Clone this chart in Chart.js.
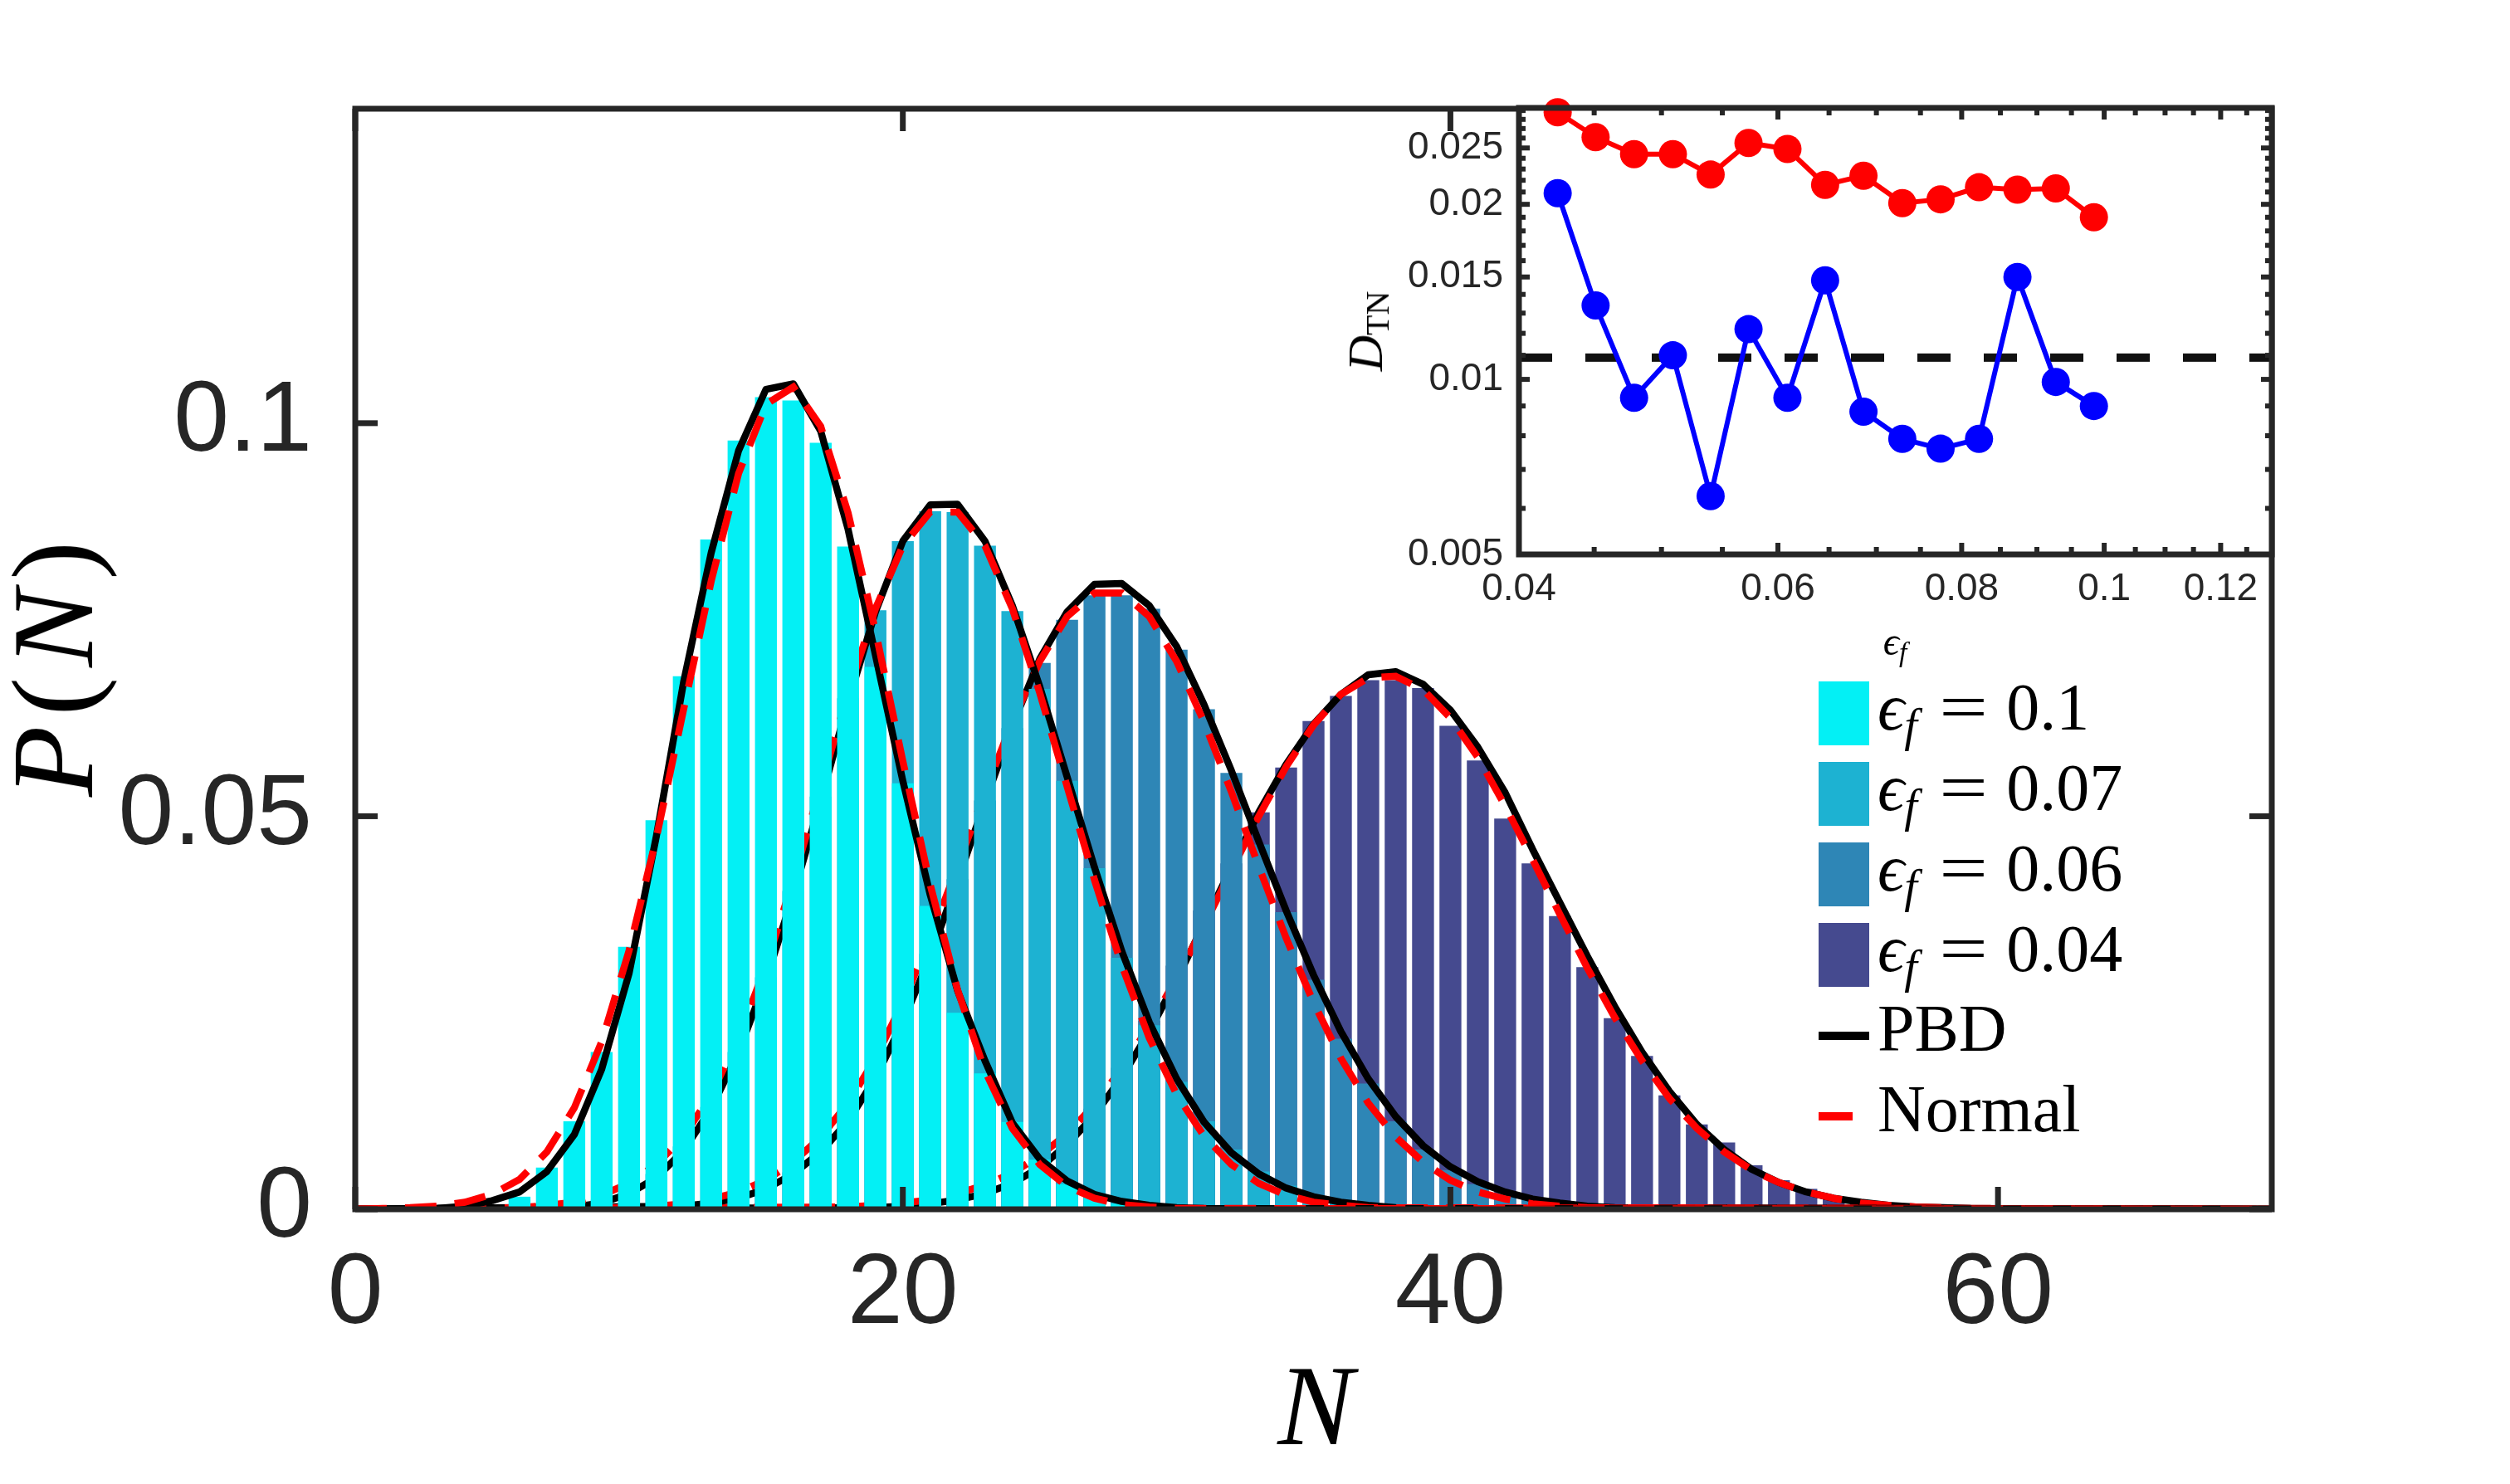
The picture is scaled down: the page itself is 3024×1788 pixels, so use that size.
<!DOCTYPE html>
<html>
<head>
<meta charset="utf-8">
<script src="https://cdn.jsdelivr.net/npm/chart.js@4.4.1/dist/chart.umd.min.js"></script>
<style>
    html, body { margin: 0; padding: 0; background: #fff; }
    #wrap { position: relative; width: 3024px; height: 1788px; overflow: hidden; background: #fff; }
    #mainCanvas { position: absolute; left: 0; top: 0; }
    #insetCanvas { position: absolute; left: 1600px; top: 100px; }
    .txt { position: absolute; font-family: "Liberation Serif", "Times New Roman", "DejaVu Serif", serif; color: #000; white-space: nowrap; line-height: 1; }
    .sub { position: relative; font-size: 0.7em; }
    .eq { display: inline-block; margin: 0 0.36em 0 0.42em; transform: scaleX(1.3); }
    .swatch { position: absolute; left: 2191px; width: 61px; height: 77px; }
    .legline { position: absolute; left: 2191px; height: 10px; }
</style>
</head>
<body>
<div id="wrap">
    <canvas id="mainCanvas" width="3024" height="1788"></canvas>
    <canvas id="insetCanvas" width="1200" height="740"></canvas>

    <!-- axis titles -->
    <div class="txt" style="left:64px; top:800px; font-size:140px; letter-spacing:12px; transform:translate(-50%,-50%) rotate(-90deg);"><i>P</i>(<i>N</i>)</div>
    <div class="txt" style="left:1585px; top:1626px; font-size:137px; transform:translateX(-50%);"><i>N</i></div>
    <div class="txt" style="left:1645px; top:399px; font-size:60px; transform:translate(-50%,-50%) rotate(-90deg);"><i>D</i><span style="font-size:40px; position:relative; top:8px;">TN</span></div>
    <div class="txt" style="left:2283px; top:749px; font-size:48px; transform:translateX(-50%);"><i>ϵ</i><span class="sub" style="top:0.25em;"><i>f</i></span></div>

    <!-- legend -->
    <div class="swatch" style="top:821px; background:#03F0F5;"></div>
    <div class="swatch" style="top:918px; background:#1DB2D2;"></div>
    <div class="swatch" style="top:1015px; background:#2E86B6;"></div>
    <div class="swatch" style="top:1112px; background:#454A8F;"></div>
    <div class="legline" style="top:1243px; width:61px; background:#000;"></div>
    <div class="legline" style="top:1340px; width:41px; background:#FF0000;"></div>
    <div class="txt" style="left:2262px; top:812px; font-size:80px;"><i>ϵ</i><span class="sub" style="top:0.25em;"><i>f</i></span><span class="eq">=</span>0.1</div>
    <div class="txt" style="left:2262px; top:909px; font-size:80px;"><i>ϵ</i><span class="sub" style="top:0.25em;"><i>f</i></span><span class="eq">=</span>0.07</div>
    <div class="txt" style="left:2262px; top:1006px; font-size:80px;"><i>ϵ</i><span class="sub" style="top:0.25em;"><i>f</i></span><span class="eq">=</span>0.06</div>
    <div class="txt" style="left:2262px; top:1103px; font-size:80px;"><i>ϵ</i><span class="sub" style="top:0.25em;"><i>f</i></span><span class="eq">=</span>0.04</div>
    <div class="txt" style="left:2262px; top:1199px; font-size:80px;">PBD</div>
    <div class="txt" style="left:2262px; top:1296px; font-size:80px;">Normal</div>
</div>

<script>
// ---- main panel: P(N) histograms, PBD and Normal fits ----
const nTicks = [0, 20, 40, 60];
const pTicks = [0, 0.05, 0.1];
const nMax = 70;
const pMax = 0.14;

// eps_f = 0.1
const bars01Start = 6;
const bars01 = [0.0016, 0.0053, 0.0112, 0.0200, 0.0334, 0.0495, 0.0678, 0.0852, 0.0978, 0.1033, 0.1029, 0.0975,
    0.0843, 0.0690, 0.0542, 0.0386, 0.0250, 0.0173, 0.0111, 0.0063, 0.0032, 0.0015, 0.0007, 0.0003];
const pbd01Start = 3;
const pbd01 = [0.0001, 0.0004, 0.0011, 0.0022, 0.0048, 0.0095, 0.0178, 0.0300, 0.0475, 0.0672, 0.0835, 0.0965,
    0.1043, 0.1050, 0.0990, 0.0865, 0.0705, 0.0545, 0.0400, 0.0278, 0.0189, 0.0110, 0.0064, 0.0036, 0.0019,
    0.0010, 0.0005, 0.0002, 0.0001];
const norm01Start = 1;
const norm01 = [0.0001, 0.0002, 0.0004, 0.0009, 0.0019, 0.0038, 0.0073, 0.0129, 0.0213, 0.0329, 0.0473, 0.0637,
    0.0799, 0.0936, 0.1024, 0.1046, 0.0996, 0.0886, 0.0736, 0.0570, 0.0413, 0.0279, 0.0176, 0.0103, 0.0057,
    0.0029, 0.0014, 0.0006, 0.0003, 0.0001];

// eps_f = 0.07
const bars007Start = 9;
const bars007 = [0.0012, 0.0025, 0.0045, 0.0080, 0.0130, 0.0200, 0.0295, 0.0405, 0.0525, 0.0650, 0.0762, 0.0850,
    0.0888, 0.0887, 0.0844, 0.0761, 0.0662, 0.0545, 0.0434, 0.0320, 0.0234, 0.0162, 0.0112, 0.0076, 0.0048,
    0.0030, 0.0018, 0.0010, 0.0005];
const pbd007Start = 8;
const pbd007 = [0.0003, 0.0008, 0.0020, 0.0040, 0.0075, 0.0128, 0.0200, 0.0292, 0.0400, 0.0520, 0.0645, 0.0760,
    0.0850, 0.0896, 0.0897, 0.0850, 0.0768, 0.0665, 0.0550, 0.0435, 0.0328, 0.0238, 0.0166, 0.0111, 0.0072,
    0.0045, 0.0027, 0.0016, 0.0009, 0.0005, 0.0002, 0.0001];
const norm007Start = 6;
const norm007 = [0.0002, 0.0005, 0.0009, 0.0018, 0.0033, 0.0057, 0.0093, 0.0146, 0.0218, 0.0310, 0.0419, 0.0538,
    0.0657, 0.0764, 0.0844, 0.0887, 0.0887, 0.0844, 0.0764, 0.0657, 0.0538, 0.0419, 0.0310, 0.0218, 0.0146,
    0.0093, 0.0057, 0.0033, 0.0018, 0.0009, 0.0005, 0.0002];

// eps_f = 0.06
const bars006Start = 13;
const bars006 = [0.0008, 0.0015, 0.0028, 0.0047, 0.0075, 0.0115, 0.0170, 0.0240, 0.0325, 0.0420, 0.0520, 0.0612,
    0.0695, 0.0750, 0.0781, 0.0781, 0.0764, 0.0712, 0.0636, 0.0555, 0.0464, 0.0378, 0.0292, 0.0217, 0.0160,
    0.0112, 0.0076, 0.0050, 0.0032, 0.0020, 0.0012, 0.0007, 0.0004];
const pbd006Start = 12;
const pbd006 = [0.0004, 0.0008, 0.0014, 0.0026, 0.0045, 0.0073, 0.0112, 0.0167, 0.0238, 0.0322, 0.0418, 0.0518,
    0.0615, 0.0700, 0.0760, 0.0795, 0.0796, 0.0768, 0.0716, 0.0642, 0.0558, 0.0468, 0.0380, 0.0298, 0.0226,
    0.0166, 0.0118, 0.0081, 0.0054, 0.0035, 0.0022, 0.0013, 0.0008, 0.0004, 0.0002];
const norm006Start = 10;
const norm006 = [0.0002, 0.0004, 0.0007, 0.0013, 0.0022, 0.0037, 0.0060, 0.0092, 0.0135, 0.0192, 0.0263, 0.0345,
    0.0436, 0.0531, 0.0620, 0.0697, 0.0754, 0.0784, 0.0784, 0.0754, 0.0697, 0.0620, 0.0531, 0.0436, 0.0345,
    0.0263, 0.0192, 0.0135, 0.0092, 0.0060, 0.0037, 0.0022, 0.0013, 0.0007, 0.0004, 0.0002];

// eps_f = 0.04
const bars004Start = 20;
const bars004 = [0.0004, 0.0007, 0.0013, 0.0022, 0.0036, 0.0058, 0.0088, 0.0128, 0.0180, 0.0240, 0.0310, 0.0380,
    0.0440, 0.0505, 0.0562, 0.0621, 0.0653, 0.0673, 0.0673, 0.0663, 0.0615, 0.0571, 0.0497, 0.0440, 0.0373,
    0.0308, 0.0243, 0.0195, 0.0145, 0.0108, 0.0085, 0.0056, 0.0037, 0.0026, 0.0015, 0.0009, 0.0005, 0.0003];
const pbd004Start = 19;
const pbd004 = [0.0002, 0.0004, 0.0007, 0.0012, 0.0020, 0.0033, 0.0053, 0.0082, 0.0120, 0.0168, 0.0226, 0.0292,
    0.0363, 0.0435, 0.0505, 0.0566, 0.0617, 0.0655, 0.0680, 0.0684, 0.0668, 0.0635, 0.0588, 0.0530, 0.0458,
    0.0390, 0.0322, 0.0258, 0.0200, 0.0150, 0.0108, 0.0076, 0.0051, 0.0034, 0.0022, 0.0014, 0.0009, 0.0005,
    0.0003, 0.0002, 0.0001];
const norm004Start = 18;
const norm004 = [0.0003, 0.0005, 0.0008, 0.0012, 0.0020, 0.0031, 0.0046, 0.0068, 0.0096, 0.0133, 0.0179, 0.0233,
    0.0294, 0.0361, 0.0431, 0.0500, 0.0563, 0.0616, 0.0655, 0.0676, 0.0678, 0.0661, 0.0625, 0.0575, 0.0513,
    0.0445, 0.0375, 0.0307, 0.0244, 0.0189, 0.0141, 0.0103, 0.0073, 0.0050, 0.0034, 0.0022, 0.0014, 0.0008,
    0.0005, 0.0003, 0.0002, 0.0001];

// ---- inset: D_TN vs eps_f ----
const epsF = [0.0425, 0.0451, 0.0479, 0.0509, 0.0540, 0.0573, 0.0609, 0.0646, 0.0686, 0.0729, 0.0774, 0.0822,
    0.0873, 0.0927, 0.0984];
const dtnNormal = [0.0288, 0.0261, 0.0244, 0.0244, 0.0225, 0.0255, 0.0249, 0.0216, 0.0224, 0.0201, 0.0204,
    0.0214, 0.0212, 0.0213, 0.0190];
const dtnPBD = [0.0209, 0.0134, 0.0093, 0.0110, 0.0063, 0.0122, 0.0093, 0.0148, 0.0088, 0.0079, 0.0076, 0.0079,
    0.0150, 0.0099, 0.0090];
const dtnThreshold = 0.0109;
const insetXMin = 0.04, insetXMax = 0.13;
const insetYMin = 0.005, insetYMax = 0.0293;
const insetXLabels = [0.04, 0.06, 0.08, 0.1, 0.12];
const insetXMinor = [0.045, 0.05, 0.055, 0.065, 0.07, 0.075, 0.085, 0.09, 0.095, 0.105, 0.11, 0.115, 0.125];
const insetYLabels = [0.005, 0.01, 0.015, 0.02, 0.025];
const insetYMinor = [0.006, 0.007, 0.008, 0.009, 0.011, 0.012, 0.013, 0.014, 0.016, 0.017, 0.018, 0.019,
    0.021, 0.022, 0.023, 0.024, 0.026, 0.027, 0.028, 0.029];

const axisColor = '#262626';
const colors = { c01: '#03F0F5', c007: '#1DB2D2', c006: '#2E86B6', c004: '#454A8F' };

function toPoints(start, values) {
    return values.map((v, i) => ({ x: start + i, y: v }));
}

// curves run along the bottom across the whole N range
function curvePoints(start, values) {
    const pts = toPoints(start, values);
    return [{ x: 0, y: 0 }, ...pts, { x: nMax, y: 0 }];
}

function barSet(label, start, values, color, order) {
    return {
        type: 'bar', label, data: toPoints(start, values), backgroundColor: color, borderWidth: 0,
        grouped: false, barPercentage: 0.8, categoryPercentage: 1.0, order
    };
}

function pbdSet(start, values, order) {
    return {
        type: 'line', label: 'PBD', data: curvePoints(start, values), borderColor: '#000', borderWidth: 8.5,
        pointRadius: 0, tension: 0, borderJoinStyle: 'round', fill: false, order
    };
}

function normSet(start, values, order) {
    return {
        type: 'line', label: 'Normal', data: curvePoints(start, values), borderColor: '#FF0000', borderWidth: 8.5,
        borderDash: [38, 22], pointRadius: 0, tension: 0, fill: false, order
    };
}

// tick label padding would otherwise push the plot area down
function dropPadding(s) {
    s.paddingTop = 0;
    s.paddingBottom = 0;
}

// inward ticks on all four sides plus the box
function boxTicks(cfg) {
    return {
        id: 'boxTicks',
        beforeDraw(chart) {
            if (!cfg.fill) return;
            const { ctx, chartArea: a } = chart;
            ctx.save();
            ctx.fillStyle = '#fff';
            ctx.fillRect(a.left, a.top, a.right - a.left, a.bottom - a.top);
            ctx.restore();
        },
        afterDatasetsDraw(chart) {
            const { ctx, chartArea: a, scales } = chart;
            const line = (x1, y1, x2, y2) => { ctx.beginPath(); ctx.moveTo(x1, y1); ctx.lineTo(x2, y2); ctx.stroke(); };
            ctx.save();
            ctx.strokeStyle = axisColor;
            ctx.lineWidth = cfg.tickWidth;
            cfg.xTicks.forEach(([v, len]) => {
                const px = scales.x.getPixelForValue(v);
                line(px, a.bottom, px, a.bottom - len);
                line(px, a.top, px, a.top + len);
            });
            cfg.yTicks.forEach(([v, len]) => {
                const py = scales.y.getPixelForValue(v);
                line(a.left, py, a.left + len, py);
                line(a.right, py, a.right - len, py);
            });
            ctx.lineWidth = cfg.boxWidth;
            ctx.strokeRect(a.left, a.top, a.right - a.left, a.bottom - a.top);
            ctx.restore();
        }
    };
}

function init() {
    Chart.defaults.font.family = '"Liberation Sans", Arial, sans-serif';
    Chart.defaults.color = axisColor;

    // order: lower draws on top, so each fit sits over its own bars but under later bars
    const datasets = [
        normSet(norm01Start, norm01, 0),
        pbdSet(pbd01Start, pbd01, 1),
        barSet('eps 0.1', bars01Start, bars01, colors.c01, 2),
        normSet(norm007Start, norm007, 3),
        pbdSet(pbd007Start, pbd007, 4),
        barSet('eps 0.07', bars007Start, bars007, colors.c007, 5),
        normSet(norm006Start, norm006, 6),
        pbdSet(pbd006Start, pbd006, 7),
        barSet('eps 0.06', bars006Start, bars006, colors.c006, 8),
        normSet(norm004Start, norm004, 9),
        pbdSet(pbd004Start, pbd004, 10),
        barSet('eps 0.04', bars004Start, bars004, colors.c004, 11)
    ];

    new Chart(document.getElementById('mainCanvas').getContext('2d'), {
        type: 'bar',
        data: { datasets },
        options: {
            responsive: false,
            animation: false,
            layout: { padding: { left: 0, top: 131, right: 287, bottom: 0 } },
            plugins: { legend: { display: false }, tooltip: { enabled: false } },
            scales: {
                x: {
                    type: 'linear', min: 0, max: nMax, offset: false,
                    grid: { display: false, drawTicks: false, offset: false },
                    border: { display: false },
                    ticks: { font: { size: 120 }, color: axisColor, padding: 32, maxRotation: 0, autoSkip: false, callback: v => String(v) },
                    afterBuildTicks: s => { s.ticks = nTicks.map(v => ({ value: v })); },
                    afterFit: s => { s.height = 331; }
                },
                y: {
                    type: 'linear', min: 0, max: pMax,
                    grid: { display: false, drawTicks: false },
                    border: { display: false },
                    ticks: { font: { size: 120 }, color: axisColor, padding: 52, autoSkip: false, callback: v => String(v) },
                    afterBuildTicks: s => { s.ticks = pTicks.map(v => ({ value: v })); },
                    afterFit: s => { s.width = 428; dropPadding(s); }
                }
            }
        },
        plugins: [boxTicks({
            fill: false, tickWidth: 7, boxWidth: 7,
            xTicks: nTicks.map(v => [v, 27]),
            yTicks: pTicks.map(v => [v, 27])
        })]
    });

    const pt = (xs, ys) => xs.map((x, i) => ({ x, y: ys[i] }));

    new Chart(document.getElementById('insetCanvas').getContext('2d'), {
        type: 'line',
        data: {
            datasets: [
                {
                    label: 'Normal', data: pt(epsF, dtnNormal), borderColor: '#FF0000', backgroundColor: '#FF0000',
                    borderWidth: 6, pointRadius: 17, pointBorderWidth: 0, pointBackgroundColor: '#FF0000',
                    tension: 0, clip: false, order: 1
                },
                {
                    label: 'PBD', data: pt(epsF, dtnPBD), borderColor: '#0000FF', backgroundColor: '#0000FF',
                    borderWidth: 6, pointRadius: 17, pointBorderWidth: 0, pointBackgroundColor: '#0000FF',
                    tension: 0, clip: false, order: 0
                },
                {
                    label: 'threshold', data: [{ x: insetXMin, y: dtnThreshold }, { x: insetXMax, y: dtnThreshold }],
                    borderColor: '#111', borderWidth: 10, borderDash: [40, 40], pointRadius: 0, order: 2
                }
            ]
        },
        options: {
            responsive: false,
            animation: false,
            layout: { padding: { left: 0, top: 30, right: 63, bottom: 0 } },
            plugins: { legend: { display: false }, tooltip: { enabled: false } },
            scales: {
                x: {
                    type: 'logarithmic', min: insetXMin, max: insetXMax,
                    grid: { display: false, drawTicks: false },
                    border: { display: false },
                    ticks: { font: { size: 46 }, color: axisColor, padding: 15, maxRotation: 0, autoSkip: false, callback: v => String(v) },
                    afterBuildTicks: s => { s.ticks = insetXLabels.map(v => ({ value: v })); },
                    afterFit: s => { s.height = 172; }
                },
                y: {
                    type: 'logarithmic', min: insetYMin, max: insetYMax,
                    grid: { display: false, drawTicks: false },
                    border: { display: false },
                    ticks: { font: { size: 46 }, color: axisColor, padding: 19, autoSkip: false, callback: v => String(v) },
                    afterBuildTicks: s => { s.ticks = insetYLabels.map(v => ({ value: v })); },
                    afterFit: s => { s.width = 230; dropPadding(s); }
                }
            }
        },
        plugins: [boxTicks({
            fill: true, tickWidth: 6, boxWidth: 7,
            xTicks: [...insetXLabels.map(v => [v, 14]), ...insetXMinor.map(v => [v, 9])],
            yTicks: [...insetYLabels.map(v => [v, 13]), ...insetYMinor.map(v => [v, 8])]
        })]
    });
}

document.addEventListener('DOMContentLoaded', init);
</script>
</body>
</html>
